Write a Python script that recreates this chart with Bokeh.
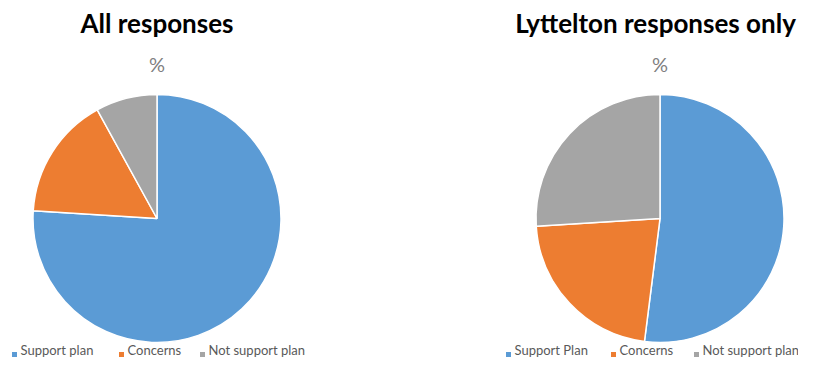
import numpy as np
from bokeh.plotting import figure
from bokeh.models import ColumnDataSource, Range1d
from bokeh.core.properties import value
from bokeh.embed import file_html
from bokeh.resources import INLINE

# ---- data ----
titles = ["All responses", "Lyttelton responses only"]
subtitle = "%"
cats_all = ["Support plan", "Concerns", "Not support plan"]
vals_all = [76, 16, 8]
cats_lyt = ["Support Plan", "Concerns", "Not support plan"]
vals_lyt = [52, 22, 26]
colors = ["#5B9BD5", "#ED7D31", "#A5A5A5"]

W, H = 798, 362
TEXT_SHIFT = 8.5  # text glyph baseline correction (px)

def py(y):
    # pixel y from the top of the figure -> data y
    return H - y

def ty(y):
    return py(y - TEXT_SHIFT)

p = figure(width=W, height=H, output_backend="svg", toolbar_location=None,
           x_range=Range1d(0, W), y_range=Range1d(0, H), min_border=0)
p.axis.visible = False
p.grid.visible = False
p.outline_line_color = None
p.background_fill_color = "white"

FONT = "Lato"

pies = [
    dict(title=titles[0], cats=cats_all, vals=vals_all, cx=156.5, cy=218,
         tx=156.5, legend_x=[14, 121, 202]),
    dict(title=titles[1], cats=cats_lyt, vals=vals_lyt, cx=659.5, cy=218,
         tx=655, legend_x=[508, 613, 696]),
]

R = 124
for pie in pies:
    v = np.array(pie["vals"], dtype=float)
    frac = v / v.sum()
    cum = np.concatenate([[0], np.cumsum(frac)])
    start = np.pi / 2 - cum[:-1] * 2 * np.pi
    end = np.pi / 2 - cum[1:] * 2 * np.pi
    src = ColumnDataSource(dict(start=start, end=end, color=colors,
                                cat=pie["cats"], val=pie["vals"]))
    p.wedge(x=pie["cx"], y=py(pie["cy"]), radius=R, start_angle="start",
            end_angle="end", direction="clock", fill_color="color",
            line_color="white", line_width=1.5, source=src)
    # title
    p.text(x=[pie["tx"]], y=[ty(31)], text=[pie["title"]], text_align="center",
           text_baseline="alphabetic", text_font=value(FONT),
           text_font_style="bold", text_font_size="26px", text_color="#000000")
    p.text(x=[pie["cx"]], y=[ty(72)], text=[subtitle], text_align="center",
           text_baseline="alphabetic", text_font=value(FONT),
           text_font_size="20px", text_color="#7F7F7F")
    # legend
    lx = np.array(pie["legend_x"], dtype=float)
    p.scatter(x=lx, y=[py(354)] * 3, marker="square", size=5,
              fill_color=colors, line_color=None)
    p.text(x=lx + 6, y=[ty(358)] * 3, text=pie["cats"], text_align="left",
           text_baseline="alphabetic", text_font=value(FONT),
           text_font_size="13px", text_color="#595959")

open("out.html", "w").write(file_html(p, INLINE))
